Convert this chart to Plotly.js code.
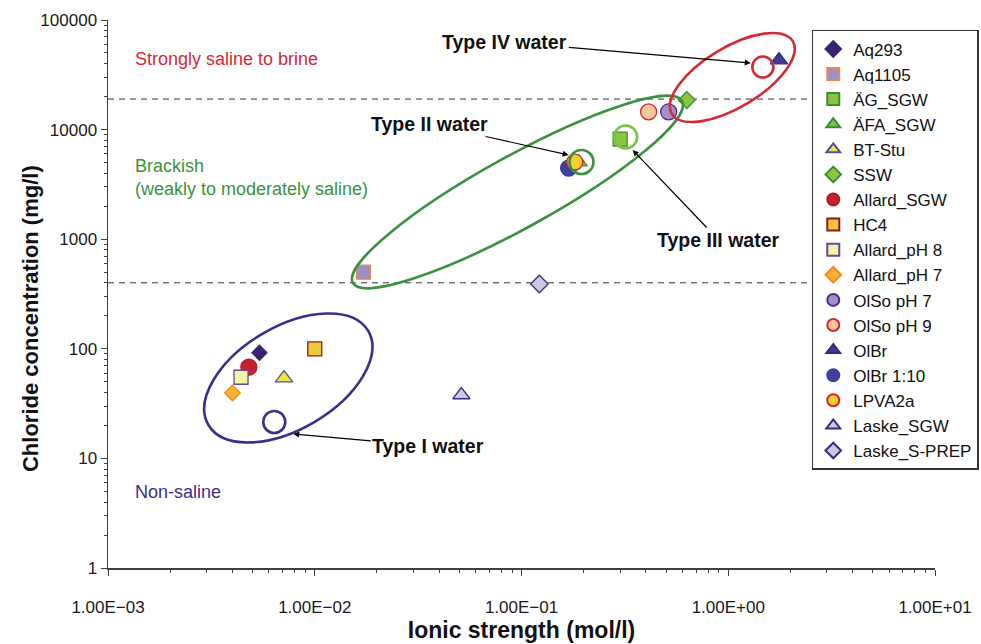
<!DOCTYPE html>
<html><head><meta charset="utf-8">
<script src="https://cdn.plot.ly/plotly-3.0.1.min.js"></script>
<style>html,body{margin:0;padding:0;background:#fff}#chart{width:981px;height:644px}</style>
</head><body><div id="chart"></div>
<script>
// ---------- data ----------
const seriesNames = ['Aq293','Aq1105','ÄG_SGW','ÄFA_SGW','BT-Stu','SSW','Allard_SGW','HC4','Allard_pH 8','Allard_pH 7','OlSo pH 7','OlSo pH 9','OlBr','OlBr 1:10','LPVA2a','Laske_SGW','Laske_S-PREP'];
const ionicStrength = [0.0054, 0.0172, 0.30, 0.189, 0.0071, 0.63, 0.0048, 0.0100, 0.0044, 0.0040, 0.515, 0.412, 1.76, 0.169, 0.181, 0.0512, 0.122];
const chloride = [92, 500, 8200, 5060, 54, 18600, 68, 100, 55, 39.5, 14500, 14500, 43100, 4460, 5060, 37.9, 390];

const xTickVals = [0.001, 0.01, 0.1, 1, 10];
const xTickText = ['1.00E\u221203', '1.00E\u221202', '1.00E\u221201', '1.00E+00', '1.00E+01'];
const yTickVals = [1, 10, 100, 1000, 10000, 100000];
const yTickText = ['1', '10', '100', '1000', '10000', '100000'];

const salinityLimits = [400, 19000];

// highlighted samples (hollow circles) and type groupings
const highlightX = [0.00637, 0.195, 0.319, 1.47];
const highlightY = [21.5, 5060, 8560, 37200];
const groupCenterX = [0.00745, 0.0956, 1.046];
const groupCenterY = [54.2, 2697, 29870];

// ---------- styles ----------
const symbols = ['diamond','square','square','triangle-up','triangle-up','diamond','circle','square','square','diamond','circle','circle','triangle-up','circle','circle','triangle-up','diamond'];
const sizes = [11.5, 14, 14, 15, 15, 13, 16, 14, 14, 12, 16, 16, 15, 16, 16, 15, 13.5];
const fills = ['#3b2270','#9b8fc9','#8cc63f','#7cc242','#eeea3a','#8cc63f','#c8202d','#f0c73a','#f7f3a6','#f9b233','#a68fc8','#f5c99d','#3d3a94','#3f3f9f','#f2d12e','#cdc7e2','#cdc7e2'];
const edges = ['#3b2270','#e8894d','#3d8b37','#3d8b37','#5b4ca0','#3d8b37','#b01c25','#8a1c1c','#5b4ca0','#f08a1c','#4a2f8a','#d8232f','#2f2c80','#3f3f9f','#d8232f','#3e2a7a','#3e2a7a'];

const RED = '#d42a35', GREEN = '#3c9140', PURPLE = '#3d2d8c', LGREEN = '#7cc242';
const FONT = 'Liberation Sans, Arial, sans-serif';

const traces = seriesNames.map((n, i) => ({
  type: 'scatter', mode: 'markers', name: n,
  x: [ionicStrength[i]], y: [chloride[i]],
  marker: {symbol: symbols[i], size: sizes[i], color: fills[i], line: {color: edges[i], width: 1.3}}
}));

function ellipsePath(a, b, deg) {
  const t = deg * Math.PI / 180, c = Math.cos(t), s = Math.sin(t), k = 0.5523;
  const P = (u, v) => (u * c - v * s).toFixed(2) + ',' + (u * s + v * c).toFixed(2);
  return 'M' + P(a, 0) +
    ' C' + P(a, k * b) + ' ' + P(k * a, b) + ' ' + P(0, b) +
    ' C' + P(-k * a, b) + ' ' + P(-a, k * b) + ' ' + P(-a, 0) +
    ' C' + P(-a, -k * b) + ' ' + P(-k * a, -b) + ' ' + P(0, -b) +
    ' C' + P(k * a, -b) + ' ' + P(a, -k * b) + ' ' + P(a, 0) + ' Z';
}
const ellipseDims = [[92.7, 51.2, 30.5], [188, 36, 28.9], [70.5, 30, 31]];
const ellipseColors = [PURPLE, GREEN, RED];
const circleR = [11, 12, 11.5, 10.5];
const circleColors = [PURPLE, GREEN, LGREEN, RED];

const shapes = [];
salinityLimits.forEach(v => shapes.push({type: 'line', layer: 'below', xref: 'paper', x0: 0, x1: 0.88, yref: 'y', y0: v, y1: v,
  line: {color: '#333', width: 1, dash: '6px,5px'}}));
const anchoredPath = (x, y, path, color) => ({type: 'path', xref: 'x', yref: 'y', xsizemode: 'pixel', ysizemode: 'pixel',
  xanchor: x, yanchor: y, path: path, line: {color: color, width: 2.6}});
ellipseDims.forEach((d, i) => shapes.push(anchoredPath(groupCenterX[i], groupCenterY[i], ellipsePath(d[0], d[1], d[2]), ellipseColors[i])));
highlightX.forEach((x, i) => shapes.push(anchoredPath(x, highlightY[i], ellipsePath(circleR[i], circleR[i], 0), circleColors[i])));

const regionNote = (text, y, color) => ({xref: 'paper', yref: 'paper', x: 0.0303, y: y, xanchor: 'left', yanchor: 'middle',
  align: 'left', showarrow: false, text: text, font: {family: FONT, size: 18, color: color}});
const typeNote = (text, x, y, ax, ay) => ({xref: 'x', yref: 'y', x: x, y: y, ax: ax, ay: ay, text: '<b>' + text + '</b>',
  showarrow: true, arrowhead: 2, arrowsize: 1, arrowwidth: 1.2, arrowcolor: '#000', standoff: 0,
  font: {family: FONT, size: 19.5, color: '#111'}});

const annotations = [
  regionNote('Strongly saline to brine', 0.929, RED),
  regionNote('Brackish<br>(weakly to moderately saline)', 0.7126, GREEN),
  regionNote('Non-saline', 0.1387, PURPLE),
  typeNote('Type IV water', 0.109, 4.608, -246, -21),
  typeNote('Type II water', -0.772, 3.768, -139, -31),
  typeNote('Type III water', -0.4625, 3.814, 86, 90),
  typeNote('Type I water', -2.104, 1.223, 135, 12),
  {xref: 'paper', yref: 'paper', x: -0.0944, y: 0.456, xanchor: 'center', yanchor: 'middle', textangle: -90, showarrow: false,
   text: '<b>Chloride concentration (mg/l)</b>', font: {family: FONT, size: 22, color: '#111'}}
];

const axisCommon = {
  type: 'log', tickmode: 'array', showline: true, linecolor: '#404040', linewidth: 1.5,
  ticks: 'outside', ticklen: 6, tickwidth: 1, tickcolor: '#404040', showgrid: false, zeroline: false,
  minor: {ticks: 'outside', ticklen: 3, tickwidth: 1, tickcolor: '#404040', dtick: 'D1', showgrid: false},
  tickfont: {family: FONT, size: 17, color: '#1a1a1a'}
};

const layout = {
  width: 981, height: 644,
  margin: {l: 108, r: 46, t: 20, b: 76, autoexpand: false},
  paper_bgcolor: '#fff', plot_bgcolor: '#fff',
  font: {family: FONT},
  xaxis: Object.assign({}, axisCommon, {range: [-3, 1], tickvals: xTickVals, ticktext: xTickText, ticklabelstandoff: 17,
    title: {text: '<b>Ionic strength (mol/l)</b>', font: {family: FONT, size: 23, color: '#111'}, standoff: 5}}),
  yaxis: Object.assign({}, axisCommon, {range: [0, 5], tickvals: yTickVals, ticktext: yTickText}),
  showlegend: true,
  legend: {x: 0.851, xanchor: 'left', y: 0.982, yanchor: 'top', bgcolor: '#fff', bordercolor: '#333', borderwidth: 1.5,
    font: {family: FONT, size: 17, color: '#111'}, itemsizing: 'constant', tracegroupgap: 0},
  shapes: shapes,
  annotations: annotations
};

Plotly.newPlot('chart', traces, layout, {displayModeBar: false, staticPlot: true});
</script></body></html>
